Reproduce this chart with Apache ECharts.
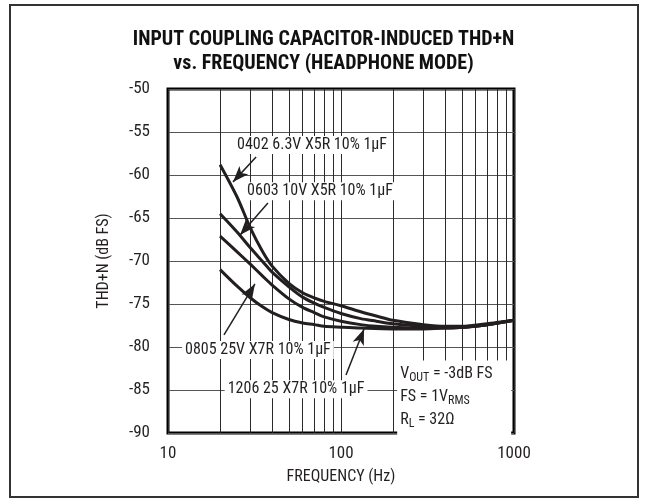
<!DOCTYPE html>
<html>
<head>
<meta charset="utf-8">
<script src="https://cdn.jsdelivr.net/npm/echarts@6/dist/echarts.min.js"></script>
<style>
  html, body { margin: 0; padding: 0; background: #fff; }
  #chart { width: 647px; height: 502px; }
</style>
</head>
<body>
<div id="chart"></div>
<script>
const FONT = "'Liberation Sans Narrow', 'Roboto Condensed', Roboto, 'DejaVu Sans Condensed', sans-serif"
const INK = '#231f20'

// frequency points (Hz) and THD+N (dB FS)
const freq0402 = [20, 25, 30, 35, 40, 50, 60, 70, 80, 100, 130, 160, 200, 300, 400, 500, 700, 1000]
const thd0402 = [-58.8, -62.5, -66.2, -68.8, -70.6, -72.6, -73.7, -74.3, -74.7, -75.2, -75.9, -76.4, -76.9, -77.4, -77.6, -77.6, -77.3, -76.9]

const freq0603 = [20, 25, 30, 35, 40, 50, 60, 70, 80, 100, 130, 160, 200, 300, 400, 500, 700, 1000]
const thd0603 = [-64.5, -66.6, -68.5, -70.0, -71.3, -73.0, -74.2, -74.9, -75.4, -76.1, -76.7, -77.0, -77.3, -77.6, -77.7, -77.7, -77.4, -76.9]

const freq0805 = [20, 25, 30, 35, 40, 50, 60, 70, 80, 100, 130, 160, 200, 300, 400, 500, 700, 1000]
const thd0805 = [-67.1, -68.9, -70.4, -71.7, -72.8, -74.4, -75.4, -76.0, -76.5, -77.0, -77.4, -77.6, -77.7, -77.8, -77.8, -77.7, -77.4, -76.9]

const freq1206 = [20, 25, 30, 35, 40, 50, 60, 70, 80, 100, 130, 200, 300, 400, 500, 700, 1000]
const thd1206 = [-71.0, -72.9, -74.3, -75.3, -76.0, -76.8, -77.2, -77.4, -77.6, -77.7, -77.8, -77.9, -77.9, -77.8, -77.7, -77.4, -76.9]

// minor log grid lines
const minorFreqs = [20, 30, 40, 50, 60, 70, 80, 90, 200, 300, 400, 500, 600, 700, 800, 900]

const yTicks = [-50, -55, -60, -65, -70, -75, -80, -85, -90]

// labels: [text, freq, dB] (centre), arrows: [fromFreq, fromDb, toFreq, toDb]
const labels = [
  ['0402 6.3V X5R 10% 1\u03bcF', 68, -56.5],
  ['0603 10V X5R 10% 1\u03bcF', 75.6, -61.9],
  ['0805 25V X7R 10% 1\u03bcF', 33.1, -80.35],
  ['1206 25 X7R 10% 1\u03bcF', 55, -84.9]
]
const arrows = [
  [32.3, -57.9, 23.75, -60.8],
  [37.8, -63.26, 26.1, -66.98],
  [21.07, -78.6, 31.8, -72.67],
  [106.9, -83.26, 135.9, -77.9]
]

const zip = (xs, ys) => xs.map((x, i) => [x, ys[i]])

const curve = (name, xs, ys) => ({
  name,
  type: 'line',
  data: zip(xs, ys),
  smooth: 0.3,
  showSymbol: false,
  silent: true,
  z: 5,
  lineStyle: {color: INK, width: 3}
})

const chart = echarts.init(document.getElementById('chart'), null, {renderer: 'canvas'})

const series = [
  curve('0402', freq0402, thd0402),
  curve('0603', freq0603, thd0603),
  curve('0805', freq0805, thd0805),
  curve('1206', freq1206, thd1206),
  {
    name: 'grid',
    type: 'line',
    data: [],
    silent: true,
    z: 1,
    markLine: {
      silent: true,
      symbol: ['none', 'none'],
      animation: false,
      label: {show: false},
      lineStyle: {color: '#2a2a2a', width: 1, type: 'solid'},
      data: minorFreqs.map(f => ({xAxis: f}))
    }
  },
  {
    name: 'arrows',
    type: 'line',
    data: [],
    silent: true,
    z: 8,
    markLine: {
      silent: true,
      animation: false,
      symbol: ['none', 'arrow'],
      symbolSize: [9, 16],
      label: {show: false},
      lineStyle: {color: INK, width: 1.5, type: 'solid'},
      data: arrows.map(a => [{coord: [a[0], a[1]]}, {coord: [a[2], a[3]]}])
    }
  }
]

chart.setOption({
  animation: false,
  backgroundColor: '#fff',
  title: {
    text: 'INPUT COUPLING CAPACITOR-INDUCED THD+N\nvs. FREQUENCY (HEADPHONE MODE)',
    left: 'center',
    top: 23,
    textStyle: {fontFamily: FONT, fontWeight: 'bold', fontSize: 20, lineHeight: 24, color: '#111'}
  },
  grid: {
    left: 168, right: 133, top: 89, bottom: 69,
    show: true, borderColor: '#000', borderWidth: 3, backgroundColor: 'transparent'
  },
  xAxis: {
    type: 'log',
    logBase: 10,
    min: 10,
    max: 1000,
    name: 'FREQUENCY (Hz)',
    nameLocation: 'middle',
    nameGap: 36,
    nameTextStyle: {fontFamily: FONT, fontSize: 16, color: INK},
    axisLine: {show: false},
    axisTick: {show: false},
    axisLabel: {fontFamily: FONT, fontSize: 17, color: INK, margin: 12, formatter: v => String(Math.round(v))},
    splitLine: {show: true, lineStyle: {color: '#2a2a2a', width: 1}}
  },
  yAxis: {
    type: 'value',
    min: -90,
    max: -50,
    interval: 5,
    name: 'THD+N (dB FS)',
    nameLocation: 'middle',
    nameRotate: 90,
    nameGap: 56,
    nameTextStyle: {fontFamily: FONT, fontSize: 16, color: INK},
    axisLine: {show: false},
    axisTick: {show: false},
    axisLabel: {
      fontFamily: FONT, fontSize: 17, color: INK, margin: 18,
      formatter: v => (yTicks.includes(v) ? String(v) : '')
    },
    splitLine: {show: true, lineStyle: {color: '#555', width: 1}}
  },
  series
})

// place text annotations at data coordinates
const graphics = labels.map(([text, f, db]) => {
  const [px, py] = chart.convertToPixel({gridIndex: 0}, [f, db])
  return {
    type: 'text',
    x: px,
    y: py,
    z: 100,
    style: {
      text,
      fill: INK,
      font: `16px ${FONT}`,
      align: 'center',
      verticalAlign: 'middle',
      backgroundColor: '#fff',
      padding: [1, 3]
    }
  }
})

const [bx, by] = chart.convertToPixel({gridIndex: 0}, [400, -83.9])
graphics.push({
  type: 'rect',
  z: 99,
  shape: {x: bx - 48, y: by - 20, width: 114, height: 78},
  style: {fill: '#fff'}
})
graphics.push({
  type: 'text',
  x: bx - 45,
  y: by - 18,
  z: 100,
  style: {
    text: 'V{sub|OUT} = -3dB FS\nFS = 1V{sub|RMS}\nR{sub|L} = 32\u03a9',
    fill: INK,
    font: `16px ${FONT}`,
    lineHeight: 23,
    rich: {
      sub: {fontFamily: FONT, fontSize: 12, fill: INK, padding: [8, 0, 0, 0]}
    }
  }
})

// outer frame
graphics.push({
  type: 'rect',
  z: 100,
  shape: {x: 10, y: 5, width: 628, height: 492},
  style: {fill: 'none', stroke: '#333', lineWidth: 2}
})

chart.setOption({graphic: graphics})
</script>
</body>
</html>
